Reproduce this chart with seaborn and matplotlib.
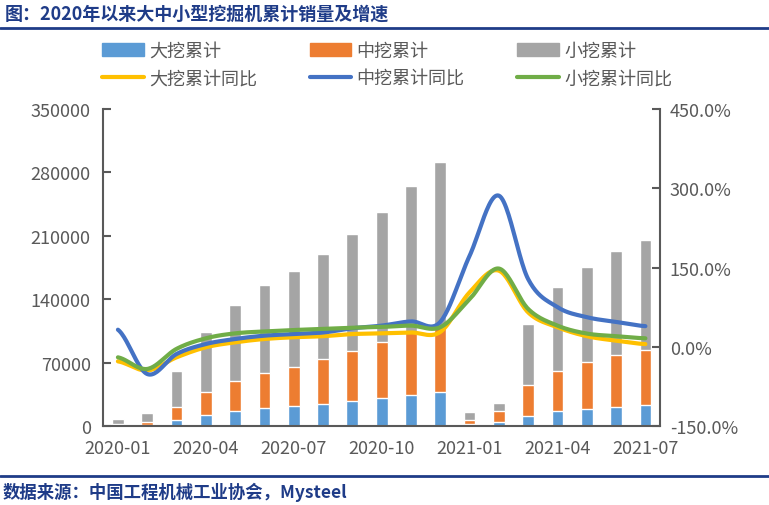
import numpy as np
import matplotlib.pyplot as plt
import seaborn as sns
from matplotlib.patches import Patch
from matplotlib.lines import Line2D

# data
months = ['2020-01', '2020-02', '2020-03', '2020-04', '2020-05', '2020-06', '2020-07',
          '2020-08', '2020-09', '2020-10', '2020-11', '2020-12', '2021-01', '2021-02',
          '2021-03', '2021-04', '2021-05', '2021-06', '2021-07']
large_cum = [500, 1000, 6600, 12500, 16900, 19900, 22100, 24300, 27900, 30900, 34600, 37500,
             2200, 4400, 11000, 16900, 19100, 21300, 23500]
medium_cum = [1500, 3700, 14700, 25000, 33100, 39000, 43400, 50000, 55200, 61800, 69200, 72500,
              4400, 12500, 34600, 44100, 51600, 57400, 60400]
small_cum = [5700, 9600, 39400, 66300, 83600, 96800, 105600, 115600, 128900, 143600, 161200, 181800,
             8900, 8500, 67000, 92500, 104800, 114500, 121400]
large_yoy = [-27.6, -45, -20, -1, 8.4, 14.7, 18, 20, 24, 25.4, 27, 28, 103, 144, 65, 37, 20, 11.5, 5]
medium_yoy = [32.3, -51.6, -13.7, 5.2, 14.7, 21, 24, 27, 35, 40, 48, 47, 172, 286, 128, 75, 56, 47, 39]
small_yoy = [-20, -42, -4, 16, 25.4, 29, 31.7, 33.6, 36, 37.5, 40, 37, 90, 148, 71.5, 40, 25, 20, 16]
tick_months = ['2020-01', '2020-04', '2020-07', '2020-10', '2021-01', '2021-04', '2021-07']

C_BLUE, C_ORANGE, C_GREY = '#5B9BD5', '#ED7D31', '#A5A5A5'
C_YEL, C_LBLUE, C_GREEN = '#FFC000', '#4472C4', '#70AD47'
NAVY = '#1F3C88'
TXT = '#595959'

sns.set_theme(style='white')
plt.rcParams['font.family'] = ['Noto Sans CJK SC', 'DejaVu Sans']


# Excel-like smoothed line (Catmull-Rom through the points)
def smooth(y, n=24):
    y = np.asarray(y, float)
    p = np.concatenate([[y[0]], y, [y[-1]]])
    xs, ys = [], []
    t = np.linspace(0, 1, n, endpoint=False)
    for i in range(len(y) - 1):
        p0, p1, p2, p3 = p[i], p[i + 1], p[i + 2], p[i + 3]
        ys.append(0.5 * (2 * p1 + (-p0 + p2) * t + (2 * p0 - 5 * p1 + 4 * p2 - p3) * t ** 2
                         + (-p0 + 3 * p1 - 3 * p2 + p3) * t ** 3))
        xs.append(i + t)
    xs.append([len(y) - 1])
    ys.append([y[-1]])
    return np.concatenate(xs), np.concatenate(ys)


fig = plt.figure(figsize=(7.69, 5.06), dpi=100)
ax = fig.add_axes([0.1343, 0.1561, 0.724, 0.6265])

total = np.array(large_cum) + np.array(medium_cum) + np.array(small_cum)
mid_top = np.array(large_cum) + np.array(medium_cum)
sns.barplot(x=months, y=total, color=C_GREY, saturation=1, width=0.4, ax=ax)
sns.barplot(x=months, y=mid_top, color=C_ORANGE, saturation=1, width=0.4, ax=ax)
sns.barplot(x=months, y=large_cum, color=C_BLUE, saturation=1, width=0.4, ax=ax)

ax.set_ylim(0, 350000)
ax.set_yticks(range(0, 350001, 70000))
ax.set_xlim(-0.5, 18.5)
ax.set_xticks([months.index(m) for m in tick_months])
ax.set_xticklabels(tick_months)
ax.set_xlabel('')
ax.set_ylabel('')
ax.tick_params(axis='y', direction='in', length=6, width=1.5, color=TXT, labelcolor=TXT,
               labelsize=13, pad=9, left=True)
ax.tick_params(axis='x', length=0, labelcolor=TXT, labelsize=13, pad=9)
for s in ['top', 'right']:
    ax.spines[s].set_visible(False)
for s in ['left', 'bottom']:
    ax.spines[s].set_color(TXT)
    ax.spines[s].set_linewidth(1.5)

ax2 = ax.twinx()
for vals, col in [(large_yoy, C_YEL), (medium_yoy, C_LBLUE), (small_yoy, C_GREEN)]:
    xs, ys = smooth(vals)
    sns.lineplot(x=xs, y=ys, color=col, lw=3, ax=ax2, sort=False, estimator=None)
ax2.set_ylim(-150, 450)
ax2.set_yticks(range(-150, 451, 150))
ax2.set_yticklabels([f'{v:.1f}%' for v in range(-150, 451, 150)])
ax2.set_xlim(-0.5, 18.5)
ax2.tick_params(axis='y', direction='in', length=6, width=1.5, color=TXT, labelcolor=TXT,
                labelsize=13, pad=7, right=True)
for s in ['top', 'left', 'bottom']:
    ax2.spines[s].set_visible(False)
ax2.spines['right'].set_color(TXT)
ax2.spines['right'].set_linewidth(1.5)

handles = [Patch(color=C_BLUE), Line2D([], [], color=C_YEL, lw=3),
           Patch(color=C_ORANGE), Line2D([], [], color=C_LBLUE, lw=3),
           Patch(color=C_GREY), Line2D([], [], color=C_GREEN, lw=3)]
labels = ['大挖累计', '大挖累计同比', '中挖累计', '中挖累计同比', '小挖累计', '小挖累计同比']
fig.legend(handles, labels, ncol=3, loc='upper left', bbox_to_anchor=(0.1332, 0.915),
           frameon=False, fontsize=13, handlelength=2.3, handletextpad=0.3,
           columnspacing=2.9, labelspacing=0.52, borderpad=0, borderaxespad=0,
           labelcolor=TXT)

fig.text(0.006, 0.972, '图：2020年以来大中小型挖掘机累计销量及增速', fontsize=13,
         weight='bold', color=NAVY, va='center')
fig.add_artist(Line2D([0, 1], [1 - 28.5 / 506] * 2, color=NAVY, lw=2))
fig.add_artist(Line2D([0, 1], [1 - 477 / 506] * 2, color=NAVY, lw=2))
fig.text(0.004, 1 - 492 / 506, '数据来源：中国工程机械工业协会，Mysteel', fontsize=12.5,
         weight='bold', color=NAVY, va='center')

fig.savefig('out.png', dpi=100)
